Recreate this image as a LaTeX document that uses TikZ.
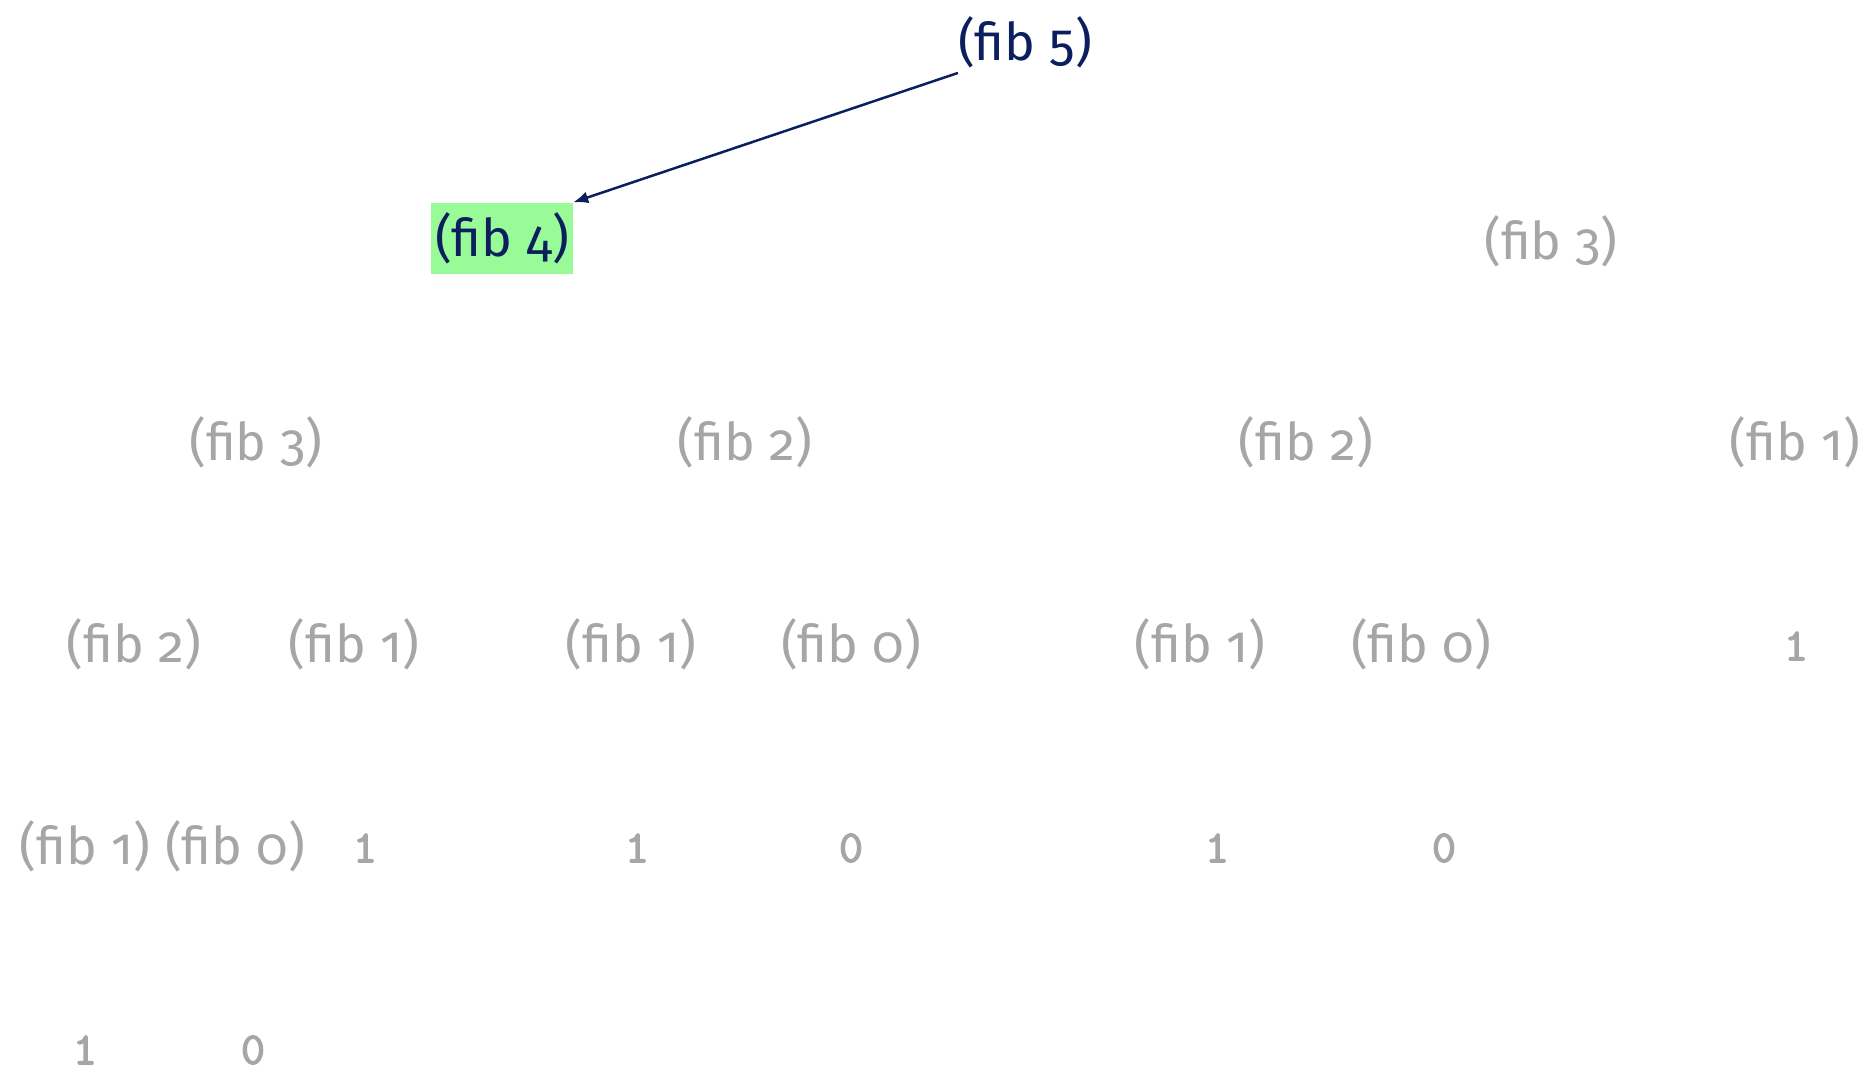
\documentclass[tikz,border=0pt]{standalone}
\usepackage{fontspec}
\setmainfont[Numbers=OldStyle]{Fira Sans}
\newfontfamily\valuefont[FakeBold=2.5]{lmmono10-regular.otf}
\usetikzlibrary{arrows.meta, positioning}
\definecolor{navy}{HTML}{0B1F5E}
\definecolor{callgray}{HTML}{A6A6A6}
\definecolor{hilite}{HTML}{98FB98}

\begin{document}
\begin{tikzpicture}[
    x=1pt, y=-1pt,
    call/.style={text=callgray, inner sep=0pt, font=\fontsize{52}{62}\selectfont},
    value/.style={text=callgray, inner sep=0pt, font=\valuefont\fontsize{46}{54}\selectfont},
    active/.style={call, text=navy},
    current/.style={active, fill=hilite, minimum height=71pt, minimum width=142pt}
]
\useasboundingbox (0,0) rectangle (1869,1081);

% Level 0 and 1
\node[active] (fib5) at (1025,42) {(fib 5)};
\node[current] (fib4) at (502,238) {(fib 4)};
\node[call] (fib3r) at (1551,241) {(fib 3)};

% Level 2
\node[call] (fib3l) at (256,442) {(fib 3)};
\node[call] (fib2a) at (745,442) {(fib 2)};
\node[call] (fib2b) at (1306,442) {(fib 2)};
\node[call] (fib1a) at (1795,442) {(fib 1)};

% Level 3
\node[call] (fib2c) at (134,644) {(fib 2)};
\node[call] (fib1b) at (354,644) {(fib 1)};
\node[call] (fib1c) at (631,644) {(fib 1)};
\node[call] (fib0a) at (851,644) {(fib 0)};
\node[call] (fib1d) at (1200,644) {(fib 1)};
\node[call] (fib0b) at (1421,644) {(fib 0)};
\node[value] (valA) at (1796,646) {1};

% Level 4
\node[call] (fib1e) at (85,846) {(fib 1)};
\node[call] (fib0c) at (235,846) {(fib 0)};
\node[value] (valB) at (365,848) {1};
\node[value] (valC) at (637,848) {1};
\node[value] (valD) at (851,848) {0};
\node[value] (valE) at (1217,848) {1};
\node[value] (valF) at (1444,848) {0};

% Level 5
\node[value] (valG) at (85,1050) {1};
\node[value] (valH) at (253,1050) {0};

% Edges
\draw[navy, line width=2.5pt, -{Latex[length=15pt, width=12pt]}] ([yshift=-5pt]fib5.south west) -- (fib4.north east);

\end{tikzpicture}
\end{document}
